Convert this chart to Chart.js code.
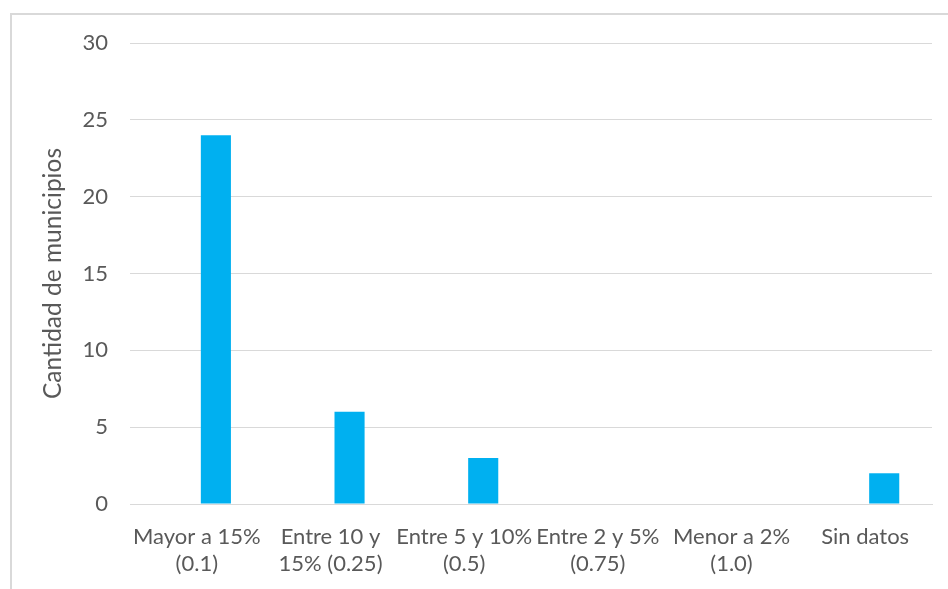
<!DOCTYPE html>
<html lang="es">
<head>
<meta charset="utf-8">
<title>Cantidad de municipios</title>
<script src="https://cdn.jsdelivr.net/npm/chart.js@4/dist/chart.umd.min.js"></script>
<style>
  html, body { margin: 0; padding: 0; background: #fff; overflow: hidden; }
  #frame {
    position: absolute; left: 10px; top: 13px;
    width: 1000px; height: 700px;
    border: 2px solid #d9d9d9; box-sizing: border-box;
  }
  #wrap { position: absolute; left: 0; top: 0; width: 948px; height: 589px; }
</style>
</head>
<body>
<div id="frame"></div>
<div id="wrap"><canvas id="chart"></canvas></div>
<script>
  var categorias = [
    ['Mayor a 15%', '(0.1)'],
    ['Entre 10 y', '15% (0.25)'],
    ['Entre 5 y 10%', '(0.5)'],
    ['Entre 2 y 5%', '(0.75)'],
    ['Menor a 2%', '(1.0)'],
    ['Sin datos']
  ];
  // the sheet has an empty first series, which pushes the bars right of centre
  var serieVacia = [null, null, null, null, null, null];
  var municipios = [24, 6, 3, 0, 0, 2];
  var ticksY = [0, 5, 10, 15, 20, 25, 30];

  var TEXT = '#595959';
  var GRID = '#d9d9d9';
  var font = { family: 'Lato, "Open Sans", sans-serif', size: 22 };
  var titleFont = { family: 'Lato, "Open Sans", sans-serif', size: 24.5 };

  new Chart(document.getElementById('chart'), {
    type: 'bar',
    data: {
      labels: categorias,
      datasets: [
        { label: '', data: serieVacia, backgroundColor: '#00b0f0',
          categoryPercentage: 0.57, barPercentage: 0.79 },
        { label: 'Municipios', data: municipios, backgroundColor: '#00b0f0',
          categoryPercentage: 0.57, barPercentage: 0.79 }
      ]
    },
    options: {
      responsive: true,
      maintainAspectRatio: false,
      animation: false,
      layout: { padding: { left: 0, right: 16, top: 43, bottom: 0 } },
      plugins: { legend: { display: false }, tooltip: { enabled: false } },
      scales: {
        x: {
          grid: { display: false, drawTicks: false },
          border: { display: true, color: GRID, width: 1 },
          ticks: { color: TEXT, font: font, padding: 20, autoSkip: false, maxRotation: 0 },
          afterFit: function (s) { s.height = 85; }
        },
        y: {
          min: 0, max: 30,
          afterBuildTicks: function (s) {
            s.ticks = ticksY.map(function (v) { return { value: v }; });
          },
          grid: { color: GRID, lineWidth: 1, drawTicks: false },
          border: { display: false },
          ticks: { color: TEXT, font: font, padding: 22 },
          title: {
            display: true, text: 'Cantidad de municipios',
            color: TEXT, font: titleFont, padding: { top: 38, bottom: 0 }
          },
          afterFit: function (s) { s.width = 130; }
        }
      }
    }
  });
</script>
</body>
</html>
